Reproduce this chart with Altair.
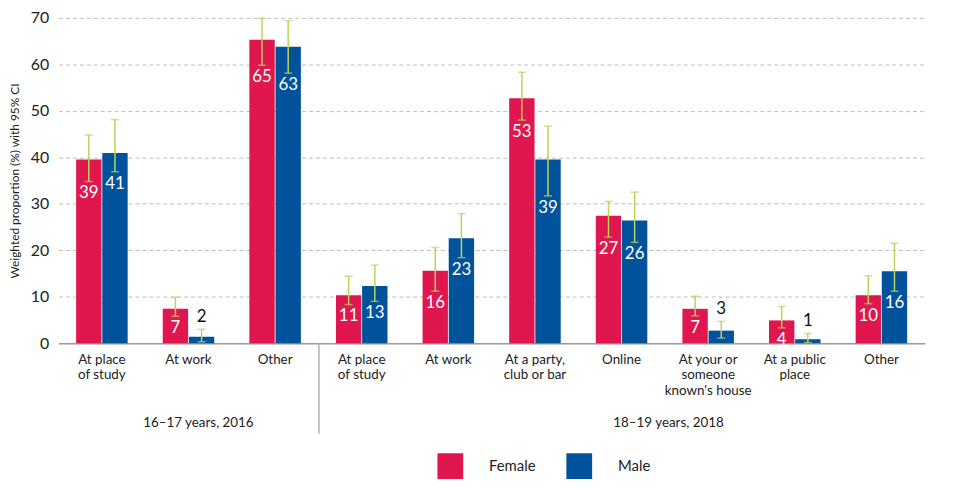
import altair as alt
import pandas as pd

keys = ["2016 At place|of study", "2016 At work", "2016 Other",
        "2018 At place|of study", "2018 At work", "2018 At a party,|club or bar",
        "2018 Online", "2018 At your or|someone|known's house", "2018 At a public|place",
        "2018 Other"]

female = [39.5, 7.4, 65.3, 10.3, 15.6, 52.7, 27.4, 7.4, 4.9, 10.3]
female_lo = [34.8, 5.8, 59.8, 8.3, 11.2, 48.0, 22.8, 5.9, 3.3, 8.5]
female_hi = [44.8, 9.9, 69.9, 14.4, 20.6, 58.3, 30.5, 10.1, 7.9, 14.5]
female_lab = [39, 7, 65, 11, 16, 53, 27, 7, 4, 10]

male = [40.9, 1.4, 63.8, 12.3, 22.6, 39.5, 26.4, 2.7, 0.85, 15.5]
male_lo = [36.9, 0.3, 58.1, 9.0, 18.4, 31.7, 21.7, 1.1, 0.15, 11.2]
male_hi = [48.1, 3.0, 69.4, 16.8, 27.9, 46.7, 32.5, 4.7, 2.1, 21.5]
male_lab = [41, 2, 63, 13, 23, 39, 26, 3, 1, 16]

sexes = ["Female", "Male"]
colors = ["#E0174F", "#00529B"]
ci_color = "#B9D35C"

period_labels = ["16\u201317 years, 2016", "18\u201319 years, 2018"]
period_x = [141, 615]

rows = []
for i, k in enumerate(keys):
    rows.append(dict(cat=k, sex="Female", v=female[i], lo=female_lo[i], hi=female_hi[i], lab=str(female_lab[i])))
    rows.append(dict(cat=k, sex="Male", v=male[i], lo=male_lo[i], hi=male_hi[i], lab=str(male_lab[i])))
df = pd.DataFrame(rows)
df["inside"] = df["v"] >= 4
df_in = df[df["inside"]]
df_out = df[~df["inside"]]

FONT = "Lato"
H = 328

x_enc = alt.X("cat:N", sort=keys,
              scale=alt.Scale(domain=keys, range=[0, 873.3], paddingInner=0.405, paddingOuter=0.2025),
              axis=alt.Axis(title=None, labelAngle=0, labelFontSize=13.5, labelLineHeight=16,
                            labelExpr="split(slice(datum.label, 5), '|')", labelBaseline="top",
                            labelPadding=9, ticks=False, domain=True, domainColor="#9a9a9a",
                            domainWidth=1.5, labelColor="#222", labelFont=FONT, grid=False))
xo = alt.XOffset("sex:N", sort=sexes, scale=alt.Scale(domain=sexes, paddingInner=0.03))
y_scale = alt.Scale(domain=[0, 70], nice=False)

base = alt.Chart(df)

bars = base.mark_bar().encode(
    x=x_enc, xOffset=xo,
    y=alt.Y("v:Q", scale=y_scale,
            axis=alt.Axis(title="Weighted proportion (%) with 95% CI", values=list(range(0, 71, 10)),
                          labelFontSize=16, labelColor="#222", labelFont=FONT, labelPadding=10,
                          ticks=False, domain=False, grid=True, gridDash=[4, 3], gridColor="#bdbdbd",
                          gridWidth=1, titleFontSize=12, titleFont=FONT, titleFontWeight="normal",
                          titleColor="#222", titlePadding=9)),
    color=alt.Color("sex:N", sort=sexes, scale=alt.Scale(domain=sexes, range=colors),
                    legend=alt.Legend(title=None, orient="none", legendX=382, legendY=439,
                                      direction="horizontal", symbolType="square", symbolSize=676,
                                      symbolStrokeWidth=0, labelFontSize=15, labelFont=FONT,
                                      labelColor="#222", labelOffset=26, columnPadding=30,
                                      symbolOpacity=1)),
)

rule = base.mark_rule(color=ci_color, strokeWidth=1.5).encode(
    x=alt.X("cat:N", sort=keys), xOffset=xo, y="lo:Q", y2="hi:Q")
cap_hi = base.mark_tick(color=ci_color, thickness=1.5, size=8, orient="horizontal").encode(
    x=alt.X("cat:N", sort=keys), xOffset=xo, y="hi:Q")
cap_lo = base.mark_tick(color=ci_color, thickness=1.5, size=8, orient="horizontal").encode(
    x=alt.X("cat:N", sort=keys), xOffset=xo, y="lo:Q")

txt_in = alt.Chart(df_in).mark_text(color="white", fontSize=17, font=FONT, baseline="middle", dy=12).encode(
    x=alt.X("cat:N", sort=keys), xOffset=xo, y="lo:Q", text="lab:N")
txt_out = alt.Chart(df_out).mark_text(color="#111", fontSize=17, font=FONT, baseline="middle", dy=-12).encode(
    x=alt.X("cat:N", sort=keys), xOffset=xo, y="hi:Q", text="lab:N")

sep = alt.Chart(pd.DataFrame({"k": [0]})).mark_rule(color="#b0b0b0", strokeWidth=1.5).encode(
    x=alt.value(262.5), y=alt.value(H), y2=alt.value(H + 91))

pdf = pd.DataFrame({"label": period_labels, "px": period_x})
periods = alt.Chart(pdf).mark_text(fontSize=13.5, font=FONT, color="#222", baseline="middle").encode(
    x=alt.X("px:Q", scale=None), y=alt.value(H + 81), text="label:N")

chart = alt.layer(bars, rule, cap_hi, cap_lo, txt_in, txt_out, sep, periods).properties(
    width=916, height=H,
    autosize=alt.AutoSizeParams(type="none"),
    padding={"left": 51, "top": 8, "right": 5, "bottom": 138},
).configure_view(stroke=None)

chart.save("out.html", embed_options={"renderer": "svg", "actions": False})
